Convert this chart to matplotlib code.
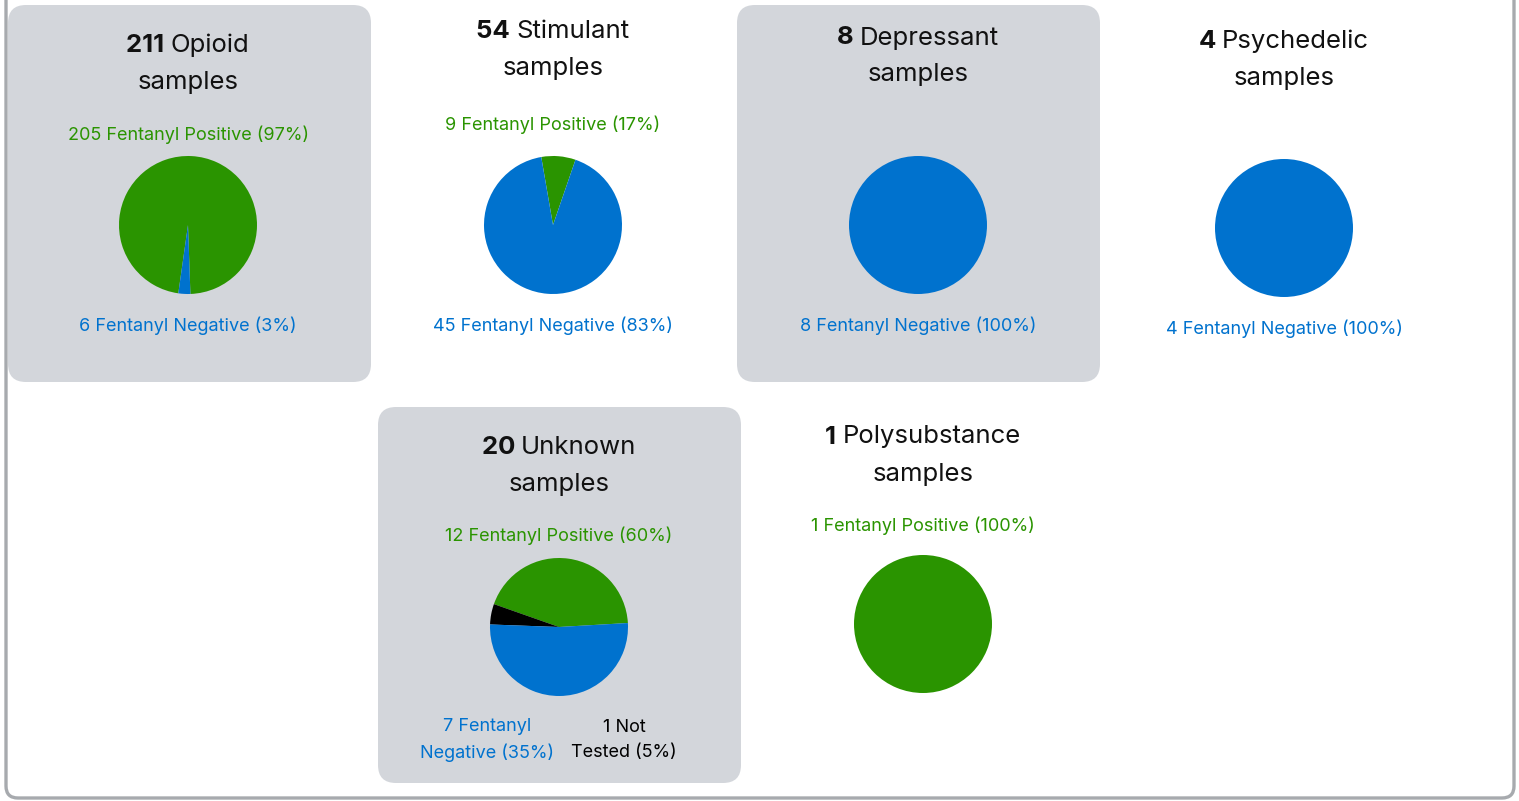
import matplotlib
matplotlib.use("Agg")
import matplotlib.pyplot as plt
from matplotlib.patches import FancyBboxPatch

W, H = 1519, 801
plt.rcParams['font.family'] = ['Inter', 'DejaVu Sans']

GREEN = '#2a9400'
BLUE = '#0072ce'
BLACK = '#000000'
BOX = '#d3d6db'
EDGE = '#a7aaae'

# data
categories = ['Opioid', 'Stimulant', 'Depressant', 'Psychedelic', 'Unknown', 'Polysubstance']
totals = [211, 54, 8, 4, 20, 1]
positive = [205, 9, 0, 0, 12, 1]
negative = [6, 45, 8, 4, 7, 0]
not_tested = [0, 0, 0, 0, 1, 0]
pos_pct = [97, 17, 0, 0, 60, 100]
neg_pct = [3, 83, 100, 100, 35, 0]
nt_pct = [0, 0, 0, 0, 5, 0]
# wedge shares as they are drawn in the pies (not quite the labels)
pie_pos = [97.2, 8.0, 0, 0, 43.7, 100]
pie_nt = [0, 0, 0, 0, 4.8, 0]
pie_neg = [2.8, 92.0, 100, 100, 51.5, 0]

# layout (pixels, y measured from the top)
cx = [188, 553, 918, 1284, 559, 923]
pie_y = [225, 225, 225, 228, 627, 624]
title_y = [45, 32, 38, 41, 447, 437]
pos_y = [135, 125, None, None, 536, 526]
neg_y = [326, 326, 326, 329, None, None]
start = [272, 71, 90, 90, 3.3, 90]
grey_box = [(8, 5, 371, 382), (737, 5, 1100, 382), (378, 407, 741, 783)]
R = 69

fig = plt.figure(figsize=(W / 100, H / 100), dpi=100)
ax = fig.add_axes([0, 0, 1, 1])
ax.axis('off')


def Y(y):
    return H - y


# outer frame, top edge off the canvas
ax.add_patch(FancyBboxPatch((6, Y(798)), 1508, 860, boxstyle='round,pad=0,rounding_size=12',
                            fc='white', ec=EDGE, lw=2.4, zorder=0))
for x0, y0, x1, y1 in grey_box:
    ax.add_patch(FancyBboxPatch((x0, Y(y1)), x1 - x0, y1 - y0,
                                boxstyle='round,pad=0,rounding_size=18',
                                fc=BOX, ec='none', zorder=1))

for i, cat in enumerate(categories):
    vals, cols = [], []
    for v, c in zip([pie_pos[i], pie_nt[i], pie_neg[i]], [GREEN, BLACK, BLUE]):
        if v > 0:
            vals.append(v)
            cols.append(c)
    ax.pie(vals, colors=cols, startangle=start[i], counterclock=True,
           center=(cx[i], Y(pie_y[i])), radius=R,
           wedgeprops=dict(linewidth=0, zorder=3), frame=True)

ax.set_xlim(0, W)
ax.set_ylim(0, H)
ax.set_aspect('auto')
ax.axis('off')

fig.canvas.draw()
rend = fig.canvas.get_renderer()

TS = 18.5
LS = 13
for i, cat in enumerate(categories):
    # title: bold count + regular name, centred together
    tb = ax.text(0, Y(title_y[i]), f'{totals[i]} ', fontsize=TS, fontweight='bold',
                 color='#111111', ha='left', va='center', zorder=5)
    tr = ax.text(0, Y(title_y[i]), cat, fontsize=TS, color='#111111',
                 ha='left', va='center', zorder=5)
    wb = tb.get_window_extent(rend).width
    wr = tr.get_window_extent(rend).width
    x0 = cx[i] - (wb + wr) / 2
    tb.set_x(x0)
    tr.set_x(x0 + wb)
    ax.text(cx[i], Y(title_y[i] + 37), 'samples', fontsize=TS, color='#111111',
            ha='center', va='center', zorder=5)

    if pos_y[i] is not None:
        ax.text(cx[i], Y(pos_y[i]), f'{positive[i]} Fentanyl Positive ({pos_pct[i]}%)',
                fontsize=LS, color=GREEN, ha='center', va='center', zorder=5)
    if neg_y[i] is not None:
        ax.text(cx[i], Y(neg_y[i]), f'{negative[i]} Fentanyl Negative ({neg_pct[i]}%)',
                fontsize=LS, color=BLUE, ha='center', va='center', zorder=5)

# Unknown panel has the split labels underneath
k = categories.index('Unknown')
ax.text(487, Y(740), f'{negative[k]} Fentanyl\nNegative ({neg_pct[k]}%)', fontsize=LS,
        color=BLUE, ha='center', va='center', linespacing=1.6, zorder=5)
ax.text(624, Y(740), f'{not_tested[k]} Not\nTested ({nt_pct[k]}%)', fontsize=LS,
        color=BLACK, ha='center', va='center', linespacing=1.6, zorder=5)

fig.savefig('out.png', dpi=100)
